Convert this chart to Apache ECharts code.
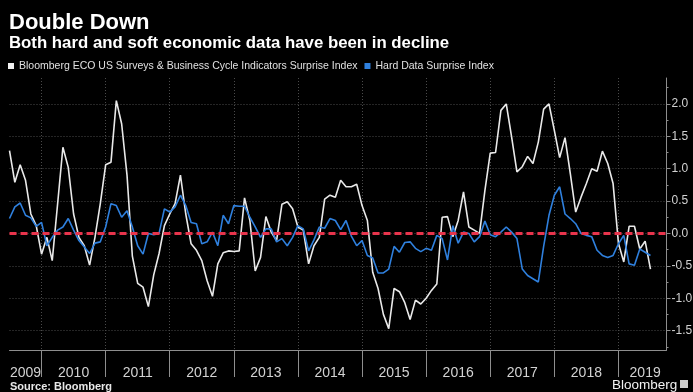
<!DOCTYPE html>
<html>
<head>
<meta charset="utf-8">
<script src="https://cdn.jsdelivr.net/npm/echarts@6/dist/echarts.min.js"></script>
<style>
  html, body { margin: 0; padding: 0; background: #000; }
  #chart { width: 693px; height: 392px; }
</style>
</head>
<body>
<div id="chart"></div>
<script>
// Monthly readings, July 2009 onwards
const startYear = 2009;
const startMonth = 7;
const monthSlots = 124; // axis runs a few months past the last reading

const surveyIndex = [
  1.28, 0.79, 1.06, 0.82, 0.30, 0.12, -0.32, -0.06, -0.42, 0.45,
  1.33, 1.02, 0.30, -0.06, -0.19, -0.49, -0.06, 0.46, 1.06, 1.10,
  2.05, 1.69, 0.90, -0.35, -0.77, -0.83, -1.13, -0.64, -0.31, 0.12,
  0.30, 0.46, 0.90, 0.30, -0.16, -0.26, -0.42, -0.73, -0.97, -0.47,
  -0.30, -0.27, -0.28, -0.27, 0.55, 0.20, -0.58, -0.37, 0.26, 0.02,
  -0.11, 0.45, 0.49, 0.38, 0.10, 0.05, -0.47, -0.19, -0.06, 0.53,
  0.59, 0.56, 0.82, 0.72, 0.72, 0.76, 0.43, 0.20, -0.60, -0.85,
  -1.25, -1.47, -0.85, -0.90, -1.07, -1.33, -1.03, -1.09, -1.00, -0.88,
  -0.78, 0.25, 0.26, -0.05, 0.20, 0.64, 0.10, 0.05, 0.00, 0.66,
  1.24, 1.25, 1.90, 2.00, 1.49, 0.95, 1.03, 1.19, 1.08, 1.41,
  1.92, 2.00, 1.59, 1.17, 1.48, 0.92, 0.33, 0.56, 0.77, 1.00,
  0.96, 1.27, 1.08, 0.77, -0.15, -0.44, 0.11, 0.11, -0.24, -0.12,
  -0.55
];

const hardDataIndex = [
  0.23, 0.41, 0.47, 0.28, 0.24, 0.11, 0.17, -0.19, -0.06, 0.05,
  0.10, 0.23, 0.05, -0.11, -0.21, -0.31, -0.15, -0.13, 0.10, 0.46,
  0.43, 0.25, 0.35, 0.10, -0.19, -0.32, 0.00, -0.02, 0.00, 0.38,
  0.33, 0.41, 0.59, 0.43, 0.17, 0.15, -0.16, -0.13, 0.02, -0.19,
  0.28, 0.15, 0.43, 0.42, 0.42, 0.25, 0.10, -0.06, 0.07, 0.07,
  -0.13, -0.08, -0.19, -0.06, 0.12, 0.07, -0.27, -0.10, 0.10, 0.08,
  0.23, 0.20, 0.06, 0.20, -0.04, -0.19, -0.11, -0.34, -0.38, -0.61,
  -0.61, -0.55, -0.20, -0.29, -0.14, -0.13, -0.23, -0.28, -0.23, -0.26,
  -0.03, -0.08, -0.41, 0.12, -0.15, 0.02, 0.00, -0.13, -0.05, 0.19,
  -0.02, -0.05, 0.02, 0.10, 0.02, -0.08, -0.55, -0.65, -0.70, -0.75,
  -0.20, 0.28, 0.59, 0.72, 0.30, 0.23, 0.15, 0.00, -0.03, -0.05,
  -0.26, -0.34, -0.37, -0.34, -0.16, -0.03, -0.47, -0.49, -0.24, -0.29,
  -0.34
];

// Months where each year's label sits (middle of the visible part of the year)
const yearLabelMonths = [
  '2009-10', '2010-07', '2011-07', '2012-07', '2013-07', '2014-07',
  '2015-07', '2016-07', '2017-07', '2018-07', '2019-06'
];

const yTicks = [-1.5, -1.0, -0.5, 0, 0.5, 1.0, 1.5, 2.0];
const yMinorTicks = [-1.75, -1.25, -0.75, -0.25, 0.25, 0.75, 1.25, 1.75, 2.25];
const baseline = 0;

const months = [];
for (let k = 0; k < monthSlots; k++) {
  const m = startMonth - 1 + k;
  const y = startYear + Math.floor(m / 12);
  months.push(y + '-' + String((m % 12) + 1).padStart(2, '0'));
}
const isYearStart = (idx) => months[idx].endsWith('-01');

const chart = echarts.init(document.getElementById('chart'), null, { renderer: 'canvas' });

const gridColor = '#4a4a4a';
const axisColor = '#8e8e8e';
const labelColor = '#d2d2d2';
const font = 'Liberation Sans, Arial, sans-serif';

chart.setOption({
  backgroundColor: '#000',
  animation: false,
  textStyle: { fontFamily: font },
  title: {
    text: 'Double Down',
    subtext: 'Both hard and soft economic data have been in decline',
    left: 9,
    top: 12,
    itemGap: 1,
    padding: 0,
    textStyle: { color: '#fff', fontSize: 22, fontWeight: 'bold', lineHeight: 22, fontFamily: font },
    subtextStyle: { color: '#fff', fontSize: 16.8, fontWeight: 'bold', lineHeight: 17, fontFamily: font }
  },
  legend: {
    left: 8,
    top: 60,
    padding: 0,
    itemGap: 7,
    itemWidth: 6,
    itemHeight: 6,
    icon: 'rect',
    textStyle: { color: '#e0e0e0', fontSize: 10.5, lineHeight: 12, fontFamily: font },
    data: [
      { name: 'Bloomberg ECO US Surveys & Business Cycle Indicators Surprise Index', itemStyle: { color: '#f2f2f2' } },
      { name: 'Hard Data Surprise Index', itemStyle: { color: '#2f80de' } }
    ]
  },
  grid: {
    left: 9.5,
    right: 26.5,
    top: 78,
    bottom: 42,
    containLabel: false,
    outerBoundsMode: 'none'
  },
  xAxis: {
    type: 'category',
    data: months,
    boundaryGap: false,
    axisLine: { show: true, onZero: false, lineStyle: { color: axisColor, width: 1 } },
    axisTick: {
      show: true,
      interval: (idx) => isYearStart(idx),
      length: 27,
      lineStyle: { color: axisColor, width: 1 }
    },
    axisLabel: {
      interval: (idx, val) => yearLabelMonths.indexOf(val) >= 0,
      formatter: (val) => val.slice(0, 4),
      color: labelColor,
      fontSize: 14,
      margin: 16,
      fontFamily: font
    },
    splitLine: {
      show: true,
      interval: (idx) => isYearStart(idx),
      lineStyle: { color: gridColor, type: [1, 2], width: 1 }
    }
  },
  yAxis: [
    {
      type: 'value',
      position: 'right',
      min: -1.8,
      max: 2.4,
      axisLine: { show: true, lineStyle: { color: axisColor, width: 1 } },
      axisTick: { show: true, customValues: yTicks, length: 4, lineStyle: { color: axisColor } },
      axisLabel: {
        customValues: yTicks,
        formatter: (v) => v.toFixed(1),
        color: labelColor,
        fontSize: 12,
        margin: 5,
        fontFamily: font
      },
      splitLine: { show: true, lineStyle: { color: gridColor, type: [1, 2], width: 1 } }
    },
    {
      type: 'value',
      position: 'right',
      min: -1.8,
      max: 2.4,
      axisLine: { show: false },
      axisTick: { show: true, customValues: yMinorTicks, length: 2, lineStyle: { color: axisColor } },
      axisLabel: { show: false },
      splitLine: { show: false }
    }
  ],
  series: [
    {
      name: 'Bloomberg ECO US Surveys & Business Cycle Indicators Surprise Index',
      type: 'line',
      data: surveyIndex,
      showSymbol: false,
      symbol: 'none',
      lineStyle: { color: '#e9e9e9', width: 1.6 },
      itemStyle: { color: '#f2f2f2' },
      z: 2
    },
    {
      name: 'Hard Data Surprise Index',
      type: 'line',
      data: hardDataIndex,
      showSymbol: false,
      symbol: 'none',
      lineStyle: { color: '#2f80de', width: 1.6 },
      itemStyle: { color: '#2f80de' },
      z: 3,
      markLine: {
        silent: true,
        symbol: 'none',
        label: { show: false },
        lineStyle: { color: '#e8344c', type: [7, 4], width: 2.8 },
        data: [{ yAxis: baseline }],
        z: 5
      }
    }
  ],
  graphic: [
    {
      type: 'text',
      left: 10,
      top: 381,
      style: { text: 'Source: Bloomberg', fill: '#e8e8e8', font: 'bold 11px ' + font }
    },
    {
      type: 'text',
      left: 612,
      top: 378,
      style: { text: 'Bloomberg', fill: '#f2f2f2', font: '13.5px ' + font }
    },
    {
      type: 'rect',
      left: 680,
      top: 380,
      shape: { width: 8, height: 8 },
      style: { fill: '#cfcfcf' }
    }
  ]
});
</script>
</body>
</html>
